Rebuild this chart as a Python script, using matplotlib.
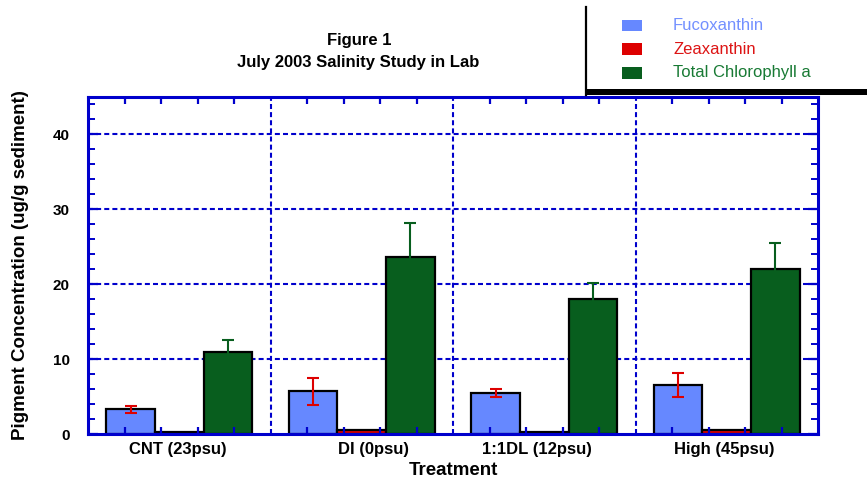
import numpy as np
import matplotlib
matplotlib.use("Agg")
import matplotlib.pyplot as plt
from matplotlib.patches import Rectangle
from matplotlib.lines import Line2D
from matplotlib.ticker import MultipleLocator
from matplotlib.transforms import blended_transform_factory

# ---- data -------------------------------------------------------------
treatments = ["CNT (23psu)", "DI (0psu)", "1:1DL (12psu)", "High (45psu)"]
pigments = ["Fucoxanthin", "Zeaxanthin", "Total Chlorophyll a"]

fucoxanthin = [3.3, 5.7, 5.5, 6.5]
fucoxanthin_err = [0.45, 1.8, 0.55, 1.6]
zeaxanthin = [0.3, 0.5, 0.3, 0.5]
chlorophyll = [11.0, 23.7, 18.0, 22.0]
chlorophyll_err = [1.5, 4.5, 2.2, 3.5]

y_ticks = [0, 10, 20, 30, 40]

# ---- style ------------------------------------------------------------
FONT = ["Liberation Sans", "DejaVu Sans"]
plt.rcParams["font.family"] = FONT
AXIS_BLUE = "#0000cc"
C_FUCO = "#6688ff"
C_ZEA = "#dd0000"
C_CHL = "#085e1e"
TXT_FUCO = "#7390ff"
TXT_ZEA = "#dd1515"
TXT_CHL = "#187a34"

W, H = 867, 480
fig = plt.figure(figsize=(W / 100, H / 100), dpi=100)


def fx(px):
    return px / W


def fy(py):
    return 1 - py / H


ax = fig.add_axes([fx(88), fy(434), fx(818) - fx(88), fy(97) - fy(434)])

x = np.arange(len(treatments))
width = 0.8 / 3

ebar = dict(elinewidth=1.5, capsize=4, capthick=1.5, zorder=3)
ax.bar(x - width, fucoxanthin, width, yerr=fucoxanthin_err, color=C_FUCO,
       edgecolor="black", linewidth=1.6, error_kw=dict(ecolor=C_ZEA, **ebar),
       label=pigments[0])
ax.bar(x, zeaxanthin, width, color=C_ZEA, edgecolor="black", linewidth=1.6,
       label=pigments[1])
ax.bar(x + width, chlorophyll, width, yerr=chlorophyll_err, color=C_CHL,
       edgecolor="black", linewidth=1.6, error_kw=dict(ecolor=C_CHL, **ebar),
       label=pigments[2])

ax.set_xlim(-0.5, len(treatments) - 0.5)
ax.set_ylim(0, 45)

# dashed grid behind the bars
dash = (0, (2.4, 1.5))
for yv in y_ticks[1:]:
    ax.axhline(yv, color=AXIS_BLUE, lw=1.5, ls=dash, zorder=0.5)
for xv in x[:-1] + 0.5:
    ax.axvline(xv, color=AXIS_BLUE, lw=1.5, ls=dash, zorder=0.5)

# ticks
xt = np.concatenate([g + np.array([-0.3, -0.1, 0.1, 0.3]) for g in x])
ax.set_xticks(xt)
ax.set_xticklabels([])
ax.tick_params(axis="x", which="major", direction="in", top=True, bottom=True,
               length=5, width=1.6, color=AXIS_BLUE, labelbottom=False)
ax.set_yticks(y_ticks)
ax.yaxis.set_minor_locator(MultipleLocator(2))
ax.tick_params(axis="y", which="major", direction="in", left=True, right=True,
               length=7, width=1.6, color=AXIS_BLUE, pad=13,
               labelsize=11)
ax.tick_params(axis="y", which="minor", direction="in", left=True, right=True,
               length=5, width=1.4, color=AXIS_BLUE)
for lbl in ax.get_yticklabels():
    lbl.set_fontweight("bold")

for sp in ax.spines.values():
    sp.set_color(AXIS_BLUE)
    sp.set_linewidth(2.2)

# group labels
trans = blended_transform_factory(ax.transData, ax.transAxes)
for i, name in enumerate(treatments):
    ax.text(i + 0.26, -0.045, name, transform=trans, ha="right", va="center",
            fontsize=12, fontweight="bold")

ax.set_xlabel("Treatment", fontsize=13.5, fontweight="bold", va="center")
ax.xaxis.set_label_coords(0.5, -0.107)
ax.set_ylabel("Pigment Concentration (ug/g sediment)", fontsize=13.5,
              fontweight="bold", va="center")
ax.yaxis.set_label_coords(-0.093, 0.5)

# title
fig.text(fx(359), fy(40), "Figure 1", ha="center", va="center",
         fontsize=12, fontweight="bold")
fig.text(fx(358), fy(62), "July 2003 Salinity Study in Lab", ha="center",
         va="center", fontsize=12, fontweight="bold")

# legend box with drop shadow
fig.patches.append(Rectangle((fx(585), fy(89)), fx(W) - fx(585), fy(7) - fy(89),
                             transform=fig.transFigure, facecolor="white",
                             edgecolor="none", zorder=5))
fig.patches.append(Rectangle((fx(585), fy(95)), fx(W) - fx(585), fy(89) - fy(95),
                             transform=fig.transFigure, facecolor="black",
                             edgecolor="none", zorder=6))
fig.lines.append(Line2D([fx(586), fx(586)], [fy(7), fy(95)],
                        transform=fig.transFigure, color="black", lw=1.6,
                        zorder=6))
rows = [25, 49, 73]
for row, name, c, tc in zip(rows, pigments, [C_FUCO, C_ZEA, C_CHL],
                            [TXT_FUCO, TXT_ZEA, TXT_CHL]):
    fig.patches.append(Rectangle((fx(622), fy(row + 5.5)), fx(642) - fx(622),
                                 fy(row - 5.5) - fy(row + 5.5),
                                 transform=fig.transFigure, facecolor=c,
                                 edgecolor="none", zorder=7))
    fig.text(fx(673), fy(row), name, ha="left", va="center", fontsize=12,
             color=tc, zorder=7)

fig.savefig("out.png", dpi=100)
